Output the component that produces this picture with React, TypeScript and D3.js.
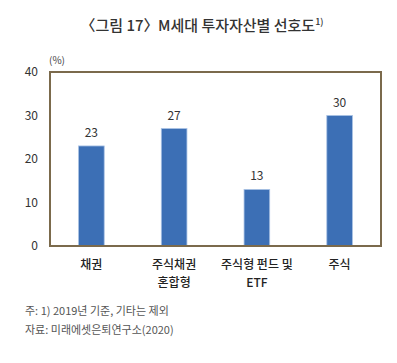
import { useEffect, useRef } from "react";
import * as d3 from "d3";

const categories = ["채권", "주식채권\n혼합형", "주식형 펀드 및\nETF", "주식"];
const values = [23, 27, 13, 30];
const yTicks = [0, 10, 20, 30, 40];
const notes = ["주: 1) 2019년 기준, 기타는 제외", "자료: 미래에셋은퇴연구소(2020)"];

const width = 397;
const height = 363;
const font = "'Noto Sans CJK KR', 'Noto Sans', sans-serif";

export default function App() {
  const svgRef = useRef<SVGSVGElement | null>(null);

  useEffect(() => {
    const svg = d3.select(svgRef.current);
    svg.selectAll("*").remove();

    const margin = { top: 72, right: 16, bottom: 117, left: 50 };

    const x = d3
      .scaleBand<string>()
      .domain(categories)
      .range([margin.left, width - margin.right])
      .paddingInner(0.69)
      .paddingOuter(0.345);

    const y = d3
      .scaleLinear()
      .domain([0, 40])
      .range([height - margin.bottom, margin.top]);

    // title
    const title = svg
      .append("text")
      .attr("x", 202)
      .attr("y", 31)
      .attr("text-anchor", "middle")
      .attr("font-family", font)
      .attr("font-size", 15)
      .attr("font-weight", 500)
      .attr("fill", "#333");
    title.append("tspan").text("〈그림 17〉");
    title.append("tspan").attr("dx", -4).text(" M세대 투자자산별 선호도");
    title.append("tspan").attr("font-size", 9).attr("dy", -6).text("1)");

    // unit
    svg
      .append("text")
      .attr("x", 49)
      .attr("y", 64)
      .attr("font-family", font)
      .attr("font-size", 10)
      .attr("fill", "#444")
      .text("(%)");

    // bars
    svg
      .selectAll("rect.bar")
      .data(values)
      .join("rect")
      .attr("class", "bar")
      .attr("x", (_, i) => x(categories[i]) as number)
      .attr("y", (d) => y(d))
      .attr("width", x.bandwidth())
      .attr("height", (d) => y(0) - y(d))
      .attr("fill", "#3c6fb5")
      .attr("stroke", "#a9c2e4")
      .attr("stroke-width", 0.8);

    // value labels
    svg
      .selectAll("text.val")
      .data(values)
      .join("text")
      .attr("class", "val")
      .attr("x", (_, i) => (x(categories[i]) as number) + x.bandwidth() / 2)
      .attr("y", (d) => y(d) - 9)
      .attr("text-anchor", "middle")
      .attr("font-family", font)
      .attr("font-size", 12)
      .attr("fill", "#333")
      .text((d) => d);

    // frame
    svg
      .append("rect")
      .attr("x", margin.left)
      .attr("y", margin.top)
      .attr("width", width - margin.left - margin.right)
      .attr("height", y(0) - margin.top)
      .attr("fill", "none")
      .attr("stroke", "#7b6a4c")
      .attr("stroke-width", 2);

    // y tick labels
    svg
      .selectAll("text.ytick")
      .data(yTicks)
      .join("text")
      .attr("class", "ytick")
      .attr("x", 38)
      .attr("y", (d) => y(d))
      .attr("dy", "0.35em")
      .attr("text-anchor", "end")
      .attr("font-family", font)
      .attr("font-size", 12)
      .attr("fill", "#333")
      .text((d) => d);

    // category labels
    categories.forEach((c) => {
      const t = svg
        .append("text")
        .attr("x", (x(c) as number) + x.bandwidth() / 2)
        .attr("y", 269)
        .attr("text-anchor", "middle")
        .attr("font-family", font)
        .attr("font-size", 12)
        .attr("font-weight", 500)
        .attr("fill", "#222");
      c.split("\n").forEach((line, i) => {
        t.append("tspan")
          .attr("x", (x(c) as number) + x.bandwidth() / 2)
          .attr("dy", i === 0 ? 0 : 18)
          .text(line);
      });
    });

    // notes
    svg
      .selectAll("text.note")
      .data(notes)
      .join("text")
      .attr("class", "note")
      .attr("x", 25)
      .attr("y", (_, i) => 315 + i * 19)
      .attr("font-family", font)
      .attr("font-size", 11)
      .attr("fill", "#555")
      .text((d) => d);
  }, []);

  return (
    <svg
      ref={svgRef}
      width={width}
      height={height}
      style={{ position: "absolute", left: 0, top: 0, background: "#fff" }}
    ></svg>
  );
}
